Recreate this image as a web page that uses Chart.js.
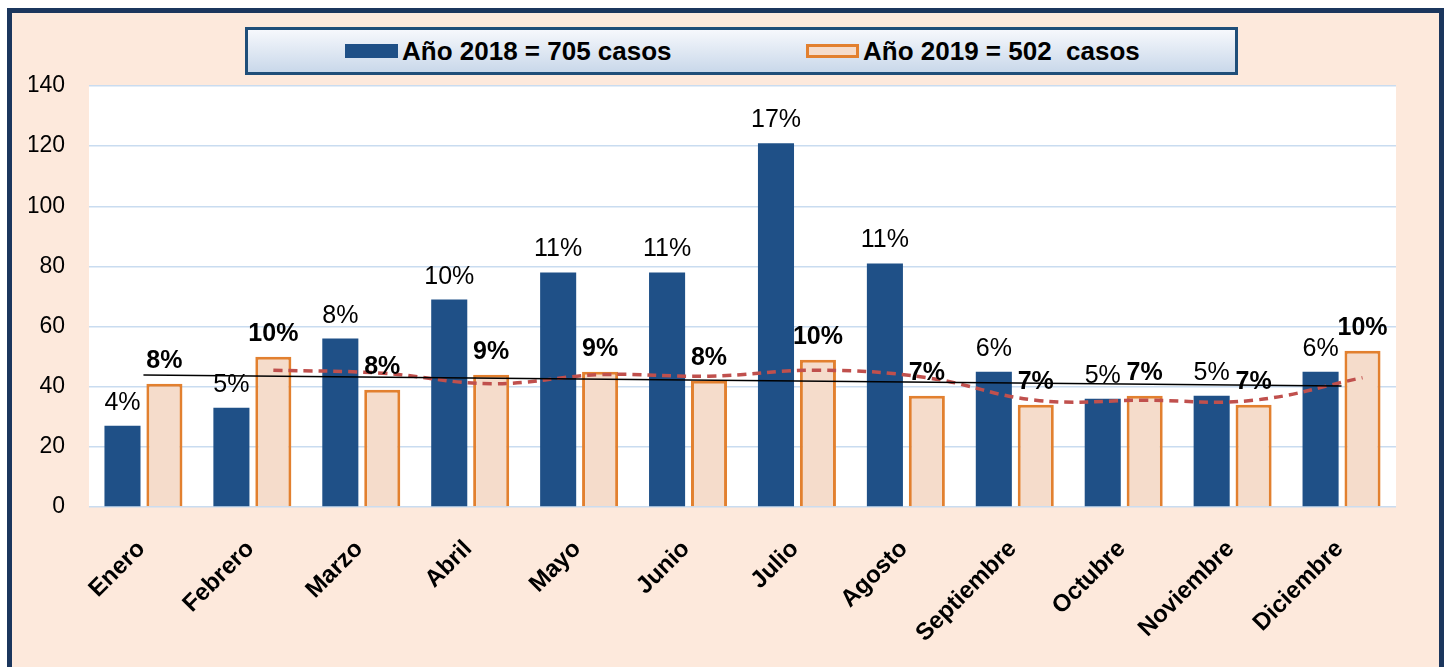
<!DOCTYPE html>
<html>
<head>
<meta charset="utf-8">
<script src="https://cdn.jsdelivr.net/npm/chart.js@4.4.1/dist/chart.umd.min.js"></script>
<style>
body{margin:0;background:#fff;width:1449px;height:667px;overflow:hidden;position:relative;font-family:Arial,"Liberation Sans",sans-serif}
#frame{position:absolute;left:7px;top:8px;width:1427px;height:700px;border:5px solid #1b365d;background:#fde9dc}
canvas{position:absolute;left:0;top:0}
#legend{position:absolute;left:245px;top:27px;width:987px;height:42px;border:3px solid #1f4e79;background:linear-gradient(#f6f8fc,#c9d8ea)}
.item{position:absolute;top:0;height:42px;display:flex;align-items:center;font-weight:bold;font-size:26px;color:#000;white-space:pre}
.sw{display:inline-block;width:53px;height:14px;margin-right:4px;box-sizing:border-box}
</style>
</head>
<body>
<div id="frame"></div>
<canvas id="myChart" width="1449" height="667"></canvas>
<canvas id="myChart2" width="1449" height="667"></canvas>
<div id="legend">
  <div class="item" style="left:97px"><span class="sw" style="background:#1f5087"></span><span id="leg2018"></span></div>
  <div class="item" style="left:558px"><span class="sw" style="background:#f5dccb;border:3px solid #e2802f"></span><span id="leg2019"></span></div>
</div>
<script>
const months = ["Enero","Febrero","Marzo","Abril","Mayo","Junio","Julio","Agosto","Septiembre","Octubre","Noviembre","Diciembre"];

const casos2018 = [27,33,56,69,78,78,121,81,45,36,37,45];
const casos2019 = [41,50,39,44,45,42,49,37,34,37,34,52];

const pct2018 = ["4%","5%","8%","10%","11%","11%","17%","11%","6%","5%","5%","6%"];
const pct2019 = ["8%","10%","8%","9%","9%","8%","10%","7%","7%","7%","7%","10%"];

// media movil (2 periodos) 2019
const mediaMovil2019 = [null,45.5,44.5,41,44,43.5,45.5,43,35.5,35.5,35.5,43];
// linea de tendencia lineal: solo extremos
const tendencia = [43.9,null,null,null,null,null,null,null,null,null,null,40.2];

const legendLabels = ["Año 2018 = 705 casos","Año 2019 = 502  casos"];

document.getElementById("leg2018").textContent = legendLabels[0];
document.getElementById("leg2019").textContent = legendLabels[1];

const catPct = 0.77;
const barShift = catPct/4;
const fontFam = 'Arial, "Liberation Sans", sans-serif';

const chartBg = {
  id:"chartBg",
  beforeDraw(chart){
    const {ctx, chartArea:a} = chart;
    ctx.save();
    ctx.fillStyle = "#fff";
    ctx.fillRect(a.left, a.top, a.right-a.left, a.bottom-a.top);
    ctx.restore();
  }
};

// etiquetas de porcentaje sobre cada barra (dibujadas en el grafico de lineas, encima de todo)
const etiquetas = {
  id:"etiquetas",
  afterDatasetsDraw(chart){
    const ctx = chart.ctx;
    const xs = chart.scales.x2, ys = chart.scales.y;
    [[casos2018,pct2018,"normal",-barShift],[casos2019,pct2019,"bold",barShift]].forEach(([vals,txt,w,sh]) => {
      vals.forEach((v,i) => {
        ctx.save();
        ctx.font = w + " 25px " + fontFam;
        ctx.textAlign = "center";
        ctx.textBaseline = "alphabetic";
        ctx.fillStyle = "#000";
        ctx.fillText(txt[i], xs.getPixelForValue(i + sh), ys.getPixelForValue(v) - 16);
        ctx.restore();
      });
    });
  }
};

const ctx = document.getElementById("myChart");
const ctx2 = document.getElementById("myChart2");

new Chart(ctx, {
  type: "bar",
  data: {
    labels: months,
    datasets: [{
      label: legendLabels[0],
      data: casos2018,
      backgroundColor: "#1f5087",
      categoryPercentage: catPct,
      barPercentage: 0.86
    },{
      label: legendLabels[1],
      data: casos2019,
      backgroundColor: "#f5dccb",
      borderColor: "#e2802f",
      borderWidth: 3,
      categoryPercentage: catPct,
      barPercentage: 0.86
    }]
  },
  options: {
    responsive: false,
    animation: false,
    layout: { padding: { left: 29, right: 53, top: 86, bottom: 0 } },
    plugins: {
      legend: { display: false },
      tooltip: { enabled: false }
    },
    scales: {
      x: {
        grid: { display: false },
        border: { display: false },
        ticks: {
          color: "#000",
          font: { family: fontFam, size: 24, weight: "bold" },
          minRotation: 45,
          maxRotation: 45,
          padding: 20,
          labelOffset: -2,
          autoSkip: false
        },
        afterFit: s => { s.height = 160; }
      },
      y: {
        min: 0,
        max: 140,
        grid: { color: "#c9dcf0", lineWidth: 1.5, drawTicks: false },
        border: { display: false },
        ticks: {
          stepSize: 20,
          color: "#000",
          font: { family: fontFam, size: 23 },
          padding: 24
        },
        afterFit: s => { s.width = 60; }
      }
    }
  },
  plugins: [chartBg]
});

// lineas: tendencia y media movil, mismo area de trazado
new Chart(ctx2, {
  type: "line",
  data: {
    labels: months,
    datasets: [{
      label: "Tendencia",
      data: tendencia,
      borderColor: "#000",
      borderWidth: 1.5,
      pointRadius: 0,
      spanGaps: true
    },{
      label: "Media movil",
      xAxisID: "x2",
      data: mediaMovil2019.map((v,i) => v == null ? null : {x: i + barShift, y: v}).filter(p => p),
      borderColor: "#c0504d",
      borderWidth: 3.5,
      borderDash: [9,6],
      pointRadius: 0,
      tension: 0.4
    }]
  },
  options: {
    responsive: false,
    animation: false,
    layout: { padding: { left: 89, right: 53, top: 86, bottom: 160 } },
    plugins: {
      legend: { display: false },
      tooltip: { enabled: false }
    },
    scales: {
      x: { display: false, offset: true },
      x2: { type: "linear", display: false, min: -0.5, max: 11.5 },
      y: { display: false, min: 0, max: 140 }
    }
  },
  plugins: [etiquetas]
});
</script>
</body>
</html>
